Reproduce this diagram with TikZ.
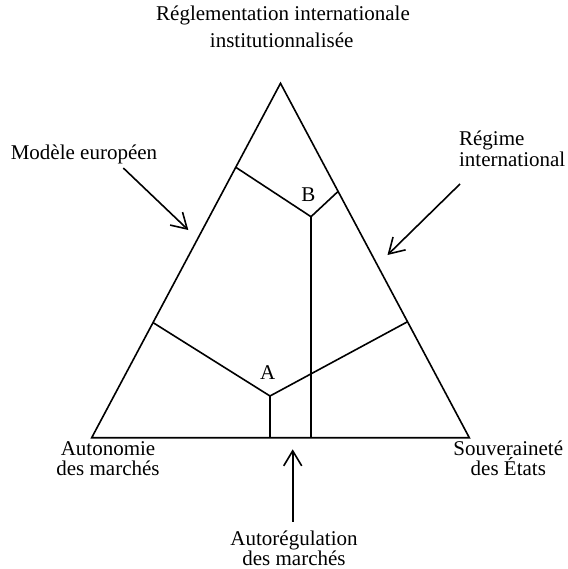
\documentclass[tikz,border=0pt]{standalone}
\usepackage{fontspec}
\setmainfont{Liberation Serif}
\usetikzlibrary{arrows.meta}
\begin{document}
\begin{tikzpicture}[x=1pt,y=-1pt,line width=1.6pt,
  lbl/.style={inner sep=0pt,font=\fontsize{21}{23}\selectfont},
  pointer/.style={-{Straight Barb[length=15pt,width=18pt,line width=1.6pt]}}]
\useasboundingbox (0,0) rectangle (567,569);
% triangle
\coordinate (T) at (280.5,83.3);
\coordinate (L) at (91.7,437.7);
\coordinate (R) at (469.3,437.7);
\draw (L) -- (T) -- (R) -- cycle;
% inner lines B
\coordinate (bl) at (235.8,167.3);
\coordinate (bj) at (311,216.7);
\coordinate (br) at (337.8,191.7);
\coordinate (bf) at (311,437.7);
\draw (bl) -- (bj) -- (br);
\draw (bj) -- (bf);
% inner lines A
\coordinate (al) at (153.2,322.7);
\coordinate (aj) at (270,396);
\coordinate (ar) at (407.6,321.7);
\coordinate (af) at (270,437.7);
\draw (al) -- (aj) -- (ar);
\draw (aj) -- (af);
% point labels
\node[lbl] (labB) at (308.3,195) {B};
\node[lbl] (labA) at (267.7,372.3) {A};
% texts
\node[lbl,anchor=base] (top1) at (283,21) {Réglementation internationale};
\node[lbl,anchor=base] (top2) at (281.7,47.5) {institutionnalisée};
\node[lbl,anchor=base west] (eur) at (10,160) {Modèle européen};
\node[lbl,anchor=base west] (reg1) at (458.3,146) {Régime};
\node[lbl,anchor=base west] (reg2) at (458.3,166.7) {international};
\node[lbl,anchor=base] (aut1) at (108,455) {Autonomie};
\node[lbl,anchor=base] (aut2) at (108,475) {des marchés};
\node[lbl,anchor=base] (sou1) at (508.3,455) {Souveraineté};
\node[lbl,anchor=base] (sou2) at (508.3,475) {des États};
\node[lbl,anchor=base] (reg3) at (294,545.5) {Autorégulation};
\node[lbl,anchor=base] (reg4) at (294,565) {des marchés};
% arrows
\coordinate (m1) at (123.3,168);
\coordinate (m2) at (188.3,230);
\coordinate (r1) at (460,184);
\coordinate (r2) at (387.5,255);
\coordinate (u1) at (292.7,521.7);
\coordinate (u2) at (292.7,449.3);
\draw[pointer] (m1) -- (m2);
\draw[pointer] (r1) -- (r2);
\draw[pointer] (u1) -- (u2);
\end{tikzpicture}
\end{document}
